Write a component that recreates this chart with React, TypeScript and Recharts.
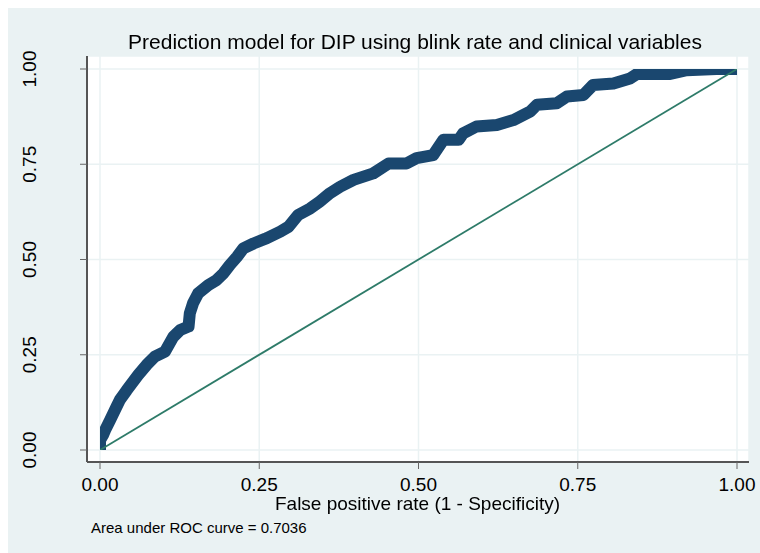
import { LineChart, Line, XAxis, YAxis, CartesianGrid } from "recharts";

// ROC curve points
const fpr = [
  0, 0, 0.005, 0.008, 0.016, 0.026, 0.031, 0.042, 0.06, 0.073, 0.086, 0.102,
  0.115, 0.126, 0.139, 0.141, 0.146, 0.154, 0.17, 0.183, 0.194, 0.204, 0.215,
  0.225, 0.241, 0.262, 0.283, 0.296, 0.311, 0.33, 0.345, 0.361, 0.377, 0.398,
  0.429, 0.453, 0.481, 0.497, 0.523, 0.539, 0.563, 0.57, 0.591, 0.623, 0.649,
  0.675, 0.686, 0.717, 0.733, 0.759, 0.774, 0.806, 0.832, 0.843, 0.895, 0.921,
  0.968, 1,
];
const tpr = [
  0, 0.026, 0.04, 0.052, 0.079, 0.114, 0.131, 0.157, 0.197, 0.223, 0.245,
  0.258, 0.297, 0.315, 0.324, 0.359, 0.385, 0.411, 0.433, 0.446, 0.464, 0.486,
  0.507, 0.529, 0.542, 0.556, 0.573, 0.586, 0.617, 0.634, 0.652, 0.674, 0.691,
  0.709, 0.726, 0.752, 0.752, 0.766, 0.774, 0.814, 0.814, 0.831, 0.849, 0.853,
  0.866, 0.888, 0.906, 0.91, 0.928, 0.932, 0.958, 0.962, 0.975, 0.987, 0.987,
  0.997, 1, 1,
];
const refX = [0, 1];
const refY = [0, 1];
const ticks = [0, 0.25, 0.5, 0.75, 1];

const title = "Prediction model for DIP using blink rate and clinical variables";
const xTitle = "False positive rate (1 - Specificity)";
const note = "Area under ROC curve = 0.7036";

const rocData = fpr.map((x, i) => ({ x, y: tpr[i] }));
const refData = refX.map((x, i) => ({ x, y: refY[i] }));

const FONT = "'Liberation Sans', Arial, Helvetica, sans-serif";

const XTick = (props: any) => (
  <text x={props.x} y={483} textAnchor="middle" fontSize={19} fontFamily={FONT} fill="#000">
    {props.payload.value.toFixed(2)}
  </text>
);

const YTick = (props: any) => (
  <text
    x={28}
    y={props.y}
    transform={`rotate(-90, 28, ${props.y})`}
    textAnchor="middle"
    fontSize={19}
    fontFamily={FONT}
    fill="#000"
  >
    {props.payload.value.toFixed(2)}
  </text>
);

export default function App() {
  return (
    // fixed so the panel can run to the window's right edge like the reference
    <div
      style={{
        position: "fixed",
        left: 8,
        top: 8,
        width: 752,
        height: 545,
        background: "#eaf2f3",
        fontFamily: FONT,
        color: "#000",
      }}
    >
      <LineChart
        width={752}
        height={545}
        margin={{ top: 48, right: 11, bottom: 0, left: 0 }}
        style={{ overflow: "visible" }}
      >
        <CartesianGrid fill="#ffffff" stroke="#eaf2f3" strokeWidth={1.5} />
        <XAxis
          dataKey="x"
          type="number"
          domain={[0, 1]}
          ticks={ticks}
          height={91}
          padding={{ left: 13, right: 12 }}
          axisLine={{ stroke: "#555", strokeWidth: 2 }}
          tickLine={{ stroke: "#666", strokeWidth: 1 }}
          tickSize={7}
          tick={XTick}
          allowDataOverflow
        />
        <YAxis
          dataKey="y"
          type="number"
          domain={[0, 1]}
          ticks={ticks}
          width={79}
          padding={{ top: 13, bottom: 12 }}
          axisLine={{ stroke: "#555", strokeWidth: 2 }}
          tickLine={{ stroke: "#666", strokeWidth: 1 }}
          tickSize={7}
          tick={YTick}
          allowDataOverflow
        />
        <Line
          data={rocData}
          dataKey="y"
          type="linear"
          stroke="#1a476f"
          strokeWidth={12}
          strokeLinecap="round"
          strokeLinejoin="round"
          dot={false}
          activeDot={false}
          isAnimationActive={false}
        />
        <Line
          data={refData}
          dataKey="y"
          type="linear"
          stroke="#2e7b69"
          strokeWidth={1.8}
          dot={false}
          activeDot={false}
          isAnimationActive={false}
        />
      </LineChart>
      <div
        style={{
          position: "absolute",
          left: 0,
          width: 814,
          top: 22.7,
          fontSize: 21,
          lineHeight: 1,
          textAlign: "center",
          whiteSpace: "nowrap",
        }}
      >
        {title}
      </div>
      <div
        style={{
          position: "absolute",
          left: 0,
          width: 819,
          top: 486,
          fontSize: 19,
          lineHeight: 1,
          textAlign: "center",
          whiteSpace: "nowrap",
        }}
      >
        {xTitle}
      </div>
      <div
        style={{
          position: "absolute",
          left: 83,
          top: 512.3,
          fontSize: 15,
          lineHeight: 1,
          whiteSpace: "nowrap",
        }}
      >
        {note}
      </div>
    </div>
  );
}
